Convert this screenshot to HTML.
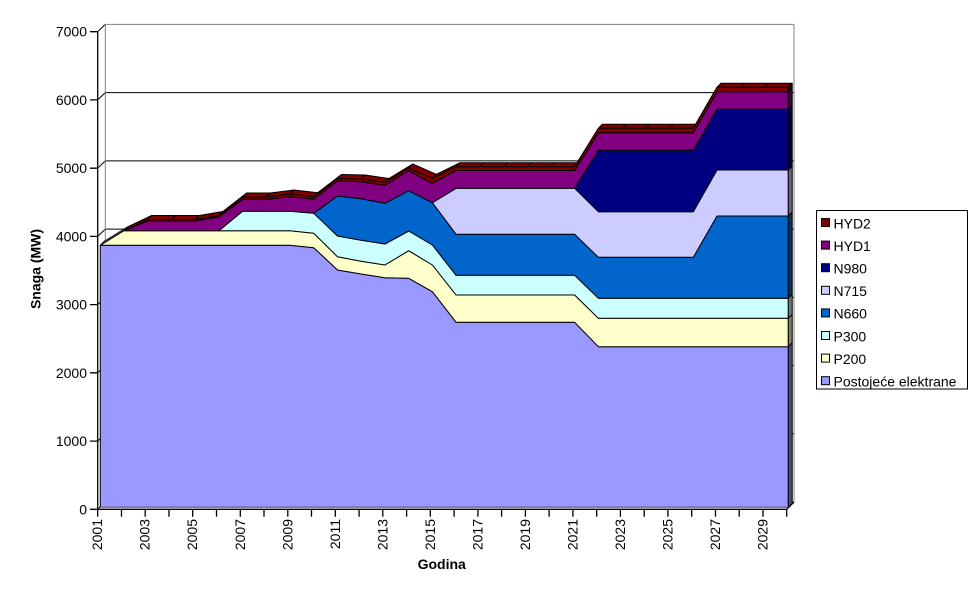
<!DOCTYPE html>
<html><head><meta charset="utf-8"><style>
html,body{margin:0;padding:0;background:#fff;}
svg{display:block;font-family:"Liberation Sans",Arial,sans-serif;}
</style></head><body>
<svg width="977" height="600" viewBox="0 0 977 600" xmlns="http://www.w3.org/2000/svg">
<rect width="977" height="600" fill="#fff"/>
<!-- back wall gridlines -->
<g stroke="#000" stroke-width="1" fill="none">
<line x1="105.3" y1="92.6" x2="794" y2="92.6"/>
<line x1="105.3" y1="160.9" x2="794" y2="160.9"/>
<line x1="105.3" y1="229.1" x2="794" y2="229.1"/>
<line x1="105.3" y1="297.3" x2="794" y2="297.3"/>
<line x1="105.3" y1="365.5" x2="794" y2="365.5"/>
<line x1="105.3" y1="433.8" x2="794" y2="433.8"/>
<!-- tick connectors -->
<line x1="97.7" y1="31.7" x2="105.3" y2="24.4"/>
<line x1="97.7" y1="99.9" x2="105.3" y2="92.6"/>
<line x1="97.7" y1="168.2" x2="105.3" y2="160.9"/>
<line x1="97.7" y1="236.4" x2="105.3" y2="229.1"/>
<line x1="97.7" y1="304.6" x2="105.3" y2="297.3"/>
<line x1="97.7" y1="372.8" x2="105.3" y2="365.5"/>
<line x1="97.7" y1="441.1" x2="105.3" y2="433.8"/>
<line x1="97.7" y1="509.3" x2="105.3" y2="502"/>
</g>
<g stroke="#808080" stroke-width="1" fill="none">
<line x1="105.3" y1="24.4" x2="794" y2="24.4"/>
<line x1="105.3" y1="24.4" x2="105.3" y2="502"/>
<line x1="794" y1="24.4" x2="794" y2="502"/>
<line x1="105.3" y1="502" x2="794" y2="502"/>
</g>

<!-- top surfaces -->
<g stroke="#000" stroke-width="1" stroke-linejoin="round">
<polygon fill="#FFFFCC" points="100.3,245.3 124,230.7 128,226.7 104.3,241.3"/>
<g fill="#800000">
<polygon points="124,230.7 147.7,219.5 151.7,215.5 128,226.7"/>
<polygon points="147.7,219.5 171.5,219.5 175.5,215.5 151.7,215.5"/>
<polygon points="171.5,219.5 195.2,219.5 199.2,215.5 175.5,215.5"/>
<polygon points="195.2,219.5 218.9,215.5 222.9,211.5 199.2,215.5"/>
<polygon points="218.9,215.5 242.6,197 246.6,193 222.9,211.5"/>
<polygon points="242.6,197 266.3,197 270.3,193 246.6,193"/>
<polygon points="266.3,197 290.1,194 294.1,190 270.3,193"/>
<polygon points="290.1,194 313.8,196.7 317.8,192.7 294.1,190"/>
<polygon points="313.8,196.7 337.5,178.5 341.5,174.5 317.8,192.7"/>
<polygon points="337.5,178.5 361.2,179 365.2,175 341.5,174.5"/>
<polygon points="361.2,179 384.9,182.5 388.9,178.5 365.2,175"/>
<polygon points="384.9,182.5 408.7,168 412.7,164 388.9,178.5"/>
<polygon points="408.7,168 432.4,178.3 436.4,174.3 412.7,164"/>
<polygon points="432.4,178.3 456.1,166.7 460.1,162.7 436.4,174.3"/>
<polygon points="456.1,166.7 479.8,166.7 483.8,162.7 460.1,162.7"/>
<polygon points="479.8,166.7 503.5,166.7 507.5,162.7 483.8,162.7"/>
<polygon points="503.5,166.7 527.3,166.7 531.3,162.7 507.5,162.7"/>
<polygon points="527.3,166.7 551,166.7 555,162.7 531.3,162.7"/>
<polygon points="551,166.7 574.7,166.7 578.7,162.7 555,162.7"/>
<polygon points="574.7,166.7 598.4,128.3 602.4,124.3 578.7,162.7"/>
<polygon points="598.4,128.3 622.1,128.3 626.1,124.3 602.4,124.3"/>
<polygon points="622.1,128.3 645.9,128.3 649.9,124.3 626.1,124.3"/>
<polygon points="645.9,128.3 669.6,128.3 673.6,124.3 649.9,124.3"/>
<polygon points="669.6,128.3 693.3,128.3 697.3,124.3 673.6,124.3"/>
<polygon points="693.3,128.3 717,87.3 721,83.3 697.3,124.3"/>
<polygon points="717,87.3 740.7,87.3 744.7,83.3 721,83.3"/>
<polygon points="740.7,87.3 764.5,87.3 768.5,83.3 744.7,83.3"/>
<polygon points="764.5,87.3 788.2,87.3 792.2,83.3 768.5,83.3"/>
</g>
</g>

<!-- side faces -->
<g stroke="#000" stroke-width="1" stroke-linejoin="round">
<polygon fill="#4D4D80" points="788.2,507.3 788.2,346.7 792.2,342.7 792.2,503.3"/>
<polygon fill="#808066" points="788.2,346.7 788.2,318.3 792.2,314.3 792.2,342.7"/>
<polygon fill="#668080" points="788.2,318.3 788.2,298.3 792.2,294.3 792.2,314.3"/>
<polygon fill="#003366" points="788.2,298.3 788.2,216 792.2,212 792.2,294.3"/>
<polygon fill="#666680" points="788.2,216 788.2,170 792.2,166 792.2,212"/>
<polygon fill="#000040" points="788.2,170 788.2,109.3 792.2,105.3 792.2,166"/>
<polygon fill="#400040" points="788.2,109.3 788.2,91.7 792.2,87.7 792.2,105.3"/>
<polygon fill="#400000" points="788.2,91.7 788.2,87.3 792.2,83.3 792.2,87.7"/>
</g>

<!-- front faces -->
<g stroke="#000" stroke-width="1" stroke-linejoin="round">
<polygon fill="#9999FF" points="100.3,245.3 290.1,245.3 313.8,247.7 337.5,270 361.2,274 384.9,277.7 408.7,278.3 432.4,291.7 456.1,322.3 574.7,322.3 598.4,346.7 788.2,346.7 788.2,507.3 100.3,507.3"/>
<polygon fill="#FFFFCC" points="100.3,245.3 124,230.7 290.1,230.7 313.8,233.3 337.5,256.7 361.2,261.3 384.9,265 408.7,250.7 432.4,265 456.1,295 574.7,295 598.4,318.3 788.2,318.3 788.2,346.7 598.4,346.7 574.7,322.3 456.1,322.3 432.4,291.7 408.7,278.3 384.9,277.7 361.2,274 337.5,270 313.8,247.7 290.1,245.3 100.3,245.3"/>
<polygon fill="#CCFFFF" points="218.9,230.7 242.6,211.3 290.1,211.3 313.8,213.3 337.5,236 361.2,240.3 384.9,244 408.7,231 432.4,245 456.1,275.3 574.7,275.3 598.4,298.3 788.2,298.3 788.2,318.3 598.4,318.3 574.7,295 456.1,295 432.4,265 408.7,250.7 384.9,265 361.2,261.3 337.5,256.7 313.8,233.3 290.1,230.7"/>
<polygon fill="#0066CC" points="313.8,213.3 337.5,196 361.2,198.7 384.9,203.3 408.7,190.7 432.4,202.7 456.1,234.3 574.7,234.3 598.4,257.3 693.3,257.3 717,216 788.2,216 788.2,298.3 598.4,298.3 574.7,275.3 456.1,275.3 432.4,245 408.7,231 384.9,244 361.2,240.3 337.5,236"/>
<polygon fill="#CCCCFF" points="432.4,202.7 456.1,188.3 574.7,188.3 598.4,211.7 693.3,211.7 717,170 788.2,170 788.2,216 717,216 693.3,257.3 598.4,257.3 574.7,234.3 456.1,234.3"/>
<polygon fill="#000080" points="574.7,188.3 598.4,150.3 693.3,150.3 717,109.3 788.2,109.3 788.2,170 717,170 693.3,211.7 598.4,211.7"/>
<polygon fill="#800080" points="124,230.7 147.7,221 195.2,221 218.9,217 242.6,199.3 266.3,199.3 290.1,196.7 313.8,199 337.5,181 361.2,181.7 384.9,185.3 408.7,170.5 432.4,183.3 456.1,170.5 574.7,170.5 598.4,132.7 693.3,132.7 717,91.7 788.2,91.7 788.2,109.3 717,109.3 693.3,150.3 598.4,150.3 574.7,188.3 456.1,188.3 432.4,202.7 408.7,190.7 384.9,203.3 361.2,198.7 337.5,196 313.8,213.3 290.1,211.3 242.6,211.3 218.9,230.7"/>
<polygon fill="#800000" points="124,230.7 147.7,219.5 195.2,219.5 218.9,215.5 242.6,197 266.3,197 290.1,194 313.8,196.7 337.5,178.5 361.2,179 384.9,182.5 408.7,168 432.4,178.3 456.1,166.7 574.7,166.7 598.4,128.3 693.3,128.3 717,87.3 788.2,87.3 788.2,91.7 717,91.7 693.3,132.7 598.4,132.7 574.7,170.5 456.1,170.5 432.4,183.3 408.7,170.5 384.9,185.3 361.2,181.7 337.5,181 313.8,199 290.1,196.7 266.3,199.3 242.6,199.3 218.9,217 195.2,221 147.7,221"/>
</g>
<line x1="100.3" y1="507.3" x2="788.2" y2="507.3" stroke="#808080" stroke-width="1"/>

<!-- axes -->
<g stroke="#000" stroke-width="1.3" fill="none">
<line x1="97.7" y1="31.7" x2="97.7" y2="509.3"/>
<line x1="97.7" y1="509.3" x2="786.7" y2="509.3"/>
<line x1="786.7" y1="509.3" x2="794" y2="502"/>
<path d="M90,31.7H97.7M90,99.9H97.7M90,168.2H97.7M90,236.4H97.7M90,304.6H97.7M90,372.8H97.7M90,441.1H97.7M90,509.3H97.7"/>
<path d="M97.7,509.3V516.7M121.5,509.3V516.7M145.2,509.3V516.7M169,509.3V516.7M192.7,509.3V516.7M216.5,509.3V516.7M240.3,509.3V516.7M264,509.3V516.7M287.8,509.3V516.7M311.5,509.3V516.7M335.3,509.3V516.7M359.1,509.3V516.7M382.8,509.3V516.7M406.6,509.3V516.7M430.3,509.3V516.7M454.1,509.3V516.7M477.9,509.3V516.7M501.6,509.3V516.7M525.4,509.3V516.7M549.1,509.3V516.7M572.9,509.3V516.7M596.7,509.3V516.7M620.4,509.3V516.7M644.2,509.3V516.7M667.9,509.3V516.7M691.7,509.3V516.7M715.5,509.3V516.7M739.2,509.3V516.7M763,509.3V516.7M786.7,509.3V516.7"/>
</g>

<!-- y labels -->
<g font-size="14" fill="#000" text-anchor="end">
<text x="87" y="36.7">7000</text>
<text x="87" y="104.9">6000</text>
<text x="87" y="173.2">5000</text>
<text x="87" y="241.4">4000</text>
<text x="87" y="309.6">3000</text>
<text x="87" y="377.8">2000</text>
<text x="87" y="446.1">1000</text>
<text x="87" y="514.3">0</text>
</g>

<!-- x labels -->
<g font-size="14" fill="#000" text-anchor="end">
<text transform="translate(102.2,519) rotate(-90)">2001</text>
<text transform="translate(149.7,519) rotate(-90)">2003</text>
<text transform="translate(197.2,519) rotate(-90)">2005</text>
<text transform="translate(244.8,519) rotate(-90)">2007</text>
<text transform="translate(292.3,519) rotate(-90)">2009</text>
<text transform="translate(339.8,519) rotate(-90)">2011</text>
<text transform="translate(387.3,519) rotate(-90)">2013</text>
<text transform="translate(434.8,519) rotate(-90)">2015</text>
<text transform="translate(482.4,519) rotate(-90)">2017</text>
<text transform="translate(529.9,519) rotate(-90)">2019</text>
<text transform="translate(577.4,519) rotate(-90)">2021</text>
<text transform="translate(624.9,519) rotate(-90)">2023</text>
<text transform="translate(672.4,519) rotate(-90)">2025</text>
<text transform="translate(720,519) rotate(-90)">2027</text>
<text transform="translate(767.5,519) rotate(-90)">2029</text>
</g>

<!-- axis titles -->
<text transform="translate(40.5,269) rotate(-90)" font-size="14" font-weight="bold" text-anchor="middle">Snaga (MW)</text>
<text x="441.7" y="569" font-size="14" font-weight="bold" text-anchor="middle">Godina</text>

<!-- legend -->
<rect x="816.5" y="210.5" width="151" height="178.5" fill="#fff" stroke="#000" stroke-width="1"/>
<g stroke="#000" stroke-width="1">
<rect x="821.5" y="218.5" width="8" height="8" fill="#800000"/>
<rect x="821.5" y="241.1" width="8" height="8" fill="#800080"/>
<rect x="821.5" y="263.7" width="8" height="8" fill="#000080"/>
<rect x="821.5" y="286.3" width="8" height="8" fill="#CCCCFF"/>
<rect x="821.5" y="308.9" width="8" height="8" fill="#0066CC"/>
<rect x="821.5" y="331.5" width="8" height="8" fill="#CCFFFF"/>
<rect x="821.5" y="354.1" width="8" height="8" fill="#FFFFCC"/>
<rect x="821.5" y="376.7" width="8" height="8" fill="#9999FF"/>
</g>
<g font-size="14" fill="#000">
<text x="833.5" y="228.3">HYD2</text>
<text x="833.5" y="250.9">HYD1</text>
<text x="833.5" y="273.5">N980</text>
<text x="833.5" y="296.1">N715</text>
<text x="833.5" y="318.7">N660</text>
<text x="833.5" y="341.3">P300</text>
<text x="833.5" y="363.9">P200</text>
<text x="833.5" y="386.5">Postojeće elektrane</text>
</g>
</svg>
</body></html>
